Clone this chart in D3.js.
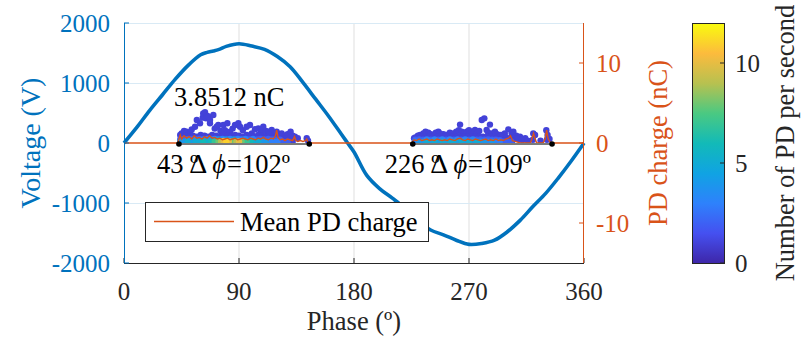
<!DOCTYPE html>
<html>
<head>
<meta charset="utf-8">
<script src="https://cdn.jsdelivr.net/npm/d3@7"></script>
<style>
  html, body { margin: 0; padding: 0; background: #fff; }
  svg { display: block; }
  text { font-family: "Liberation Serif", "Times New Roman", serif; }
</style>
</head>
<body>
<svg id="chart" width="804" height="342"></svg>
<script>
// ---- data ----
const phaseTicks = [0, 90, 180, 270, 360];
const voltageTicks = [-2000, -1000, 0, 1000, 2000];
const chargeTicks = [-10, 0, 10];
const countTicks = [0, 5, 10];

// supply voltage over one cycle (phase in degrees, volts)
const voltPhase = [0, 10, 20, 30, 40, 50, 60, 65, 70, 75, 80, 90, 100, 110, 120, 130, 140, 150, 160, 170, 175, 180, 190, 200, 210, 220, 230, 240, 250, 260, 270, 280, 290, 300, 310, 320, 330, 340, 350, 360];
const voltValue = [0, 260, 540, 800, 1060, 1290, 1470, 1510, 1535, 1565, 1610, 1655, 1615, 1560, 1440, 1270, 1010, 730, 450, 150, 0, -150, -540, -760, -920, -1090, -1300, -1450, -1530, -1620, -1690, -1675, -1620, -1480, -1290, -1060, -840, -580, -300, 0];

// mean PD charge per phase (nC)
const meanPhase = [0, 42, 43, 44, 45, 47, 49, 51, 53, 55, 57, 59, 61, 63, 65, 67, 69, 71, 73, 75, 77, 79, 81, 83, 85, 87, 89, 91, 93, 95, 97, 99, 101, 103, 105, 107, 109, 111, 113, 115, 117, 118.5, 119.5, 120.5, 122, 124, 126, 128, 130, 132, 133.5, 134.5, 136, 138, 140, 142, 143, 144, 145,
  225, 226, 227, 229, 231, 233, 235, 237, 239, 241, 243, 245, 247, 249, 251, 253, 255, 257, 259, 261, 263, 265, 267, 269, 271, 273, 275, 277, 279, 281, 283, 285, 287, 289, 291, 293, 295, 297, 299, 301, 302.5, 304, 306, 308, 310, 318, 319, 320.5, 322, 323, 328, 329.5, 330.8, 332, 333.5, 335, 360];
const meanCharge = [0, 0, 0.5, 1.0, 0.5, 0.9, 0.6, 0.8, 0.5, 0.9, 0.6, 0.7, 0.5, 0.8, 0.6, 0.9, 0.6, 0.7, 0.5, 0.6, 0.4, 0.5, 0.6, 0.4, 0.5, 0.6, 0.4, 0.5, 0.6, 0.5, 0.4, 0.6, 0.5, 0.4, 0.6, 0.5, 0.7, 0.5, 0.4, 0.6, 0.5, 0.9, 1.6, 0.7, 0.4, 0.5, 0.3, 0.5, 0.4, 0.3, 0.8, 0.3, 0.2, 0.3, 0.2, 0.3, 0.5, 0.1, 0,
  0, 0.2, 0.4, 0.3, 0.5, 0.3, 0.4, 0.5, 0.3, 0.4, 0.3, 0.5, 0.4, 0.3, 0.4, 0.3, 0.5, 0.4, 0.3, 0.5, 0.6, 0.4, 0.3, 0.5, 0.4, 0.3, 0.5, 0.4, 0.3, 0.4, 0.5, 0.3, 0.4, 0.3, 0.5, 0.3, 0.4, 0.3, 0.5, 0.6, 0.9, 0.3, 0.2, 0.1, 0, 0, 0.4, 1.2, 0.4, 0, 0, 0.5, 1.6, 0.5, 0.1, 0, 0];

// individual PD events: [phase (deg), charge (nC), PD per second]
const pdPositive = [
  [44, 1.0, 1], [45.1, 1.2, 1], [47, 1.5, 1], [49, 1.42, 1], [51.7, 1.2, 1], [53, 1.7, 1], [55.6, 2.04, 1], [57, 2.88, 1],
  [59.5, 2.46, 1], [61.6, 3.17, 1], [62, 3.7, 1], [63.4, 3.8512, 1], [64.2, 3.08, 1], [65.2, 3.37, 1], [66, 3.3, 1], [67.3, 2.46, 1],
  [67.3, 2.88, 1], [69.9, 3.5, 1], [71, 1.8, 1], [72.5, 2.04, 1], [73.8, 2.25, 1], [75.5, 1.5, 1], [77.7, 2.25, 1], [79, 1.6, 1],
  [80.9, 2.46, 1], [83, 1.42, 1], [85, 1.8, 1], [86.9, 2.25, 1], [89.5, 2.46, 1], [90.8, 2.04, 1], [93, 1.6, 1], [96, 2.04, 1],
  [98.6, 2.25, 1], [100, 1.2, 1], [102.5, 1.71, 1], [105.1, 1.83, 1], [107, 1.4, 1], [109, 2.04, 1], [111, 1.5, 1], [113, 1.42, 1],
  [115.6, 1.63, 1], [117, 1.2, 1], [119.5, 1.42, 1], [121, 1.1, 1], [123.4, 1.2, 1], [126, 0.9, 1], [128, 1.1, 1], [130.4, 1.42, 1],
  [132, 0.9, 1], [133.8, 0.8, 1], [136, 0.6, 1], [143, 0.6, 1], [144, 0.3, 1],
  [45, 0.8, 1], [48, 0.9, 1], [51, 0.8, 1], [54, 0.9, 1], [57, 0.8, 1], [60, 1.0, 1], [63, 0.9, 1], [66, 0.8, 1], [69, 1.0, 1],
  [72, 0.9, 1], [75, 0.8, 1], [78, 1.0, 1], [81, 0.9, 1], [84, 0.8, 1], [87, 1.0, 1], [90, 0.9, 1], [93, 0.8, 1], [96, 1.0, 1],
  [99, 0.9, 1], [102, 0.8, 1], [105, 1.0, 1], [108, 0.9, 1], [111, 0.8, 1], [114, 1.0, 1], [117, 0.8, 1], [120, 0.7, 1],
  [124, 0.6, 1], [128, 0.6, 1], [132, 0.5, 1],
  [44, 0.45, 2], [47, 0.5, 2], [50, 0.45, 3], [53, 0.5, 2], [56, 0.45, 3], [59, 0.5, 2], [62, 0.45, 3], [65, 0.5, 3], [68, 0.45, 3],
  [71, 0.5, 3], [74, 0.45, 4], [77, 0.5, 3], [80, 0.45, 4], [83, 0.5, 3], [86, 0.45, 4], [89, 0.5, 3], [92, 0.45, 3], [95, 0.5, 3],
  [98, 0.45, 2], [101, 0.5, 3], [104, 0.45, 2], [107, 0.5, 2], [110, 0.45, 2], [113, 0.5, 2], [116, 0.45, 2], [119, 0.4, 2],
  [122, 0.4, 2], [126, 0.35, 1], [130, 0.3, 1],
  [44, 0.15, 4], [47, 0.15, 4], [50, 0.15, 5], [53, 0.15, 4], [56, 0.15, 5], [59, 0.15, 5], [62, 0.15, 6], [65, 0.15, 5],
  [68, 0.15, 6], [71, 0.15, 7], [74, 0.2, 8], [76, 0.15, 9], [78, 0.25, 10], [80, 0.15, 11], [82, 0.2, 10], [84, 0.15, 8],
  [86, 0.25, 7], [88, 0.15, 9], [90, 0.2, 10], [92, 0.15, 8], [94, 0.2, 6], [96, 0.15, 7], [99, 0.15, 6], [102, 0.15, 5],
  [105, 0.15, 5], [108, 0.15, 4], [111, 0.15, 4], [114, 0.15, 3], [117, 0.15, 3], [120, 0.15, 3], [124, 0.15, 2], [128, 0.15, 2],
  [132, 0.15, 1]
];
const pdNegative = [
  [228, 0.7, 1], [230, 0.9, 1], [231.7, 1.0, 1], [234.3, 1.2, 1], [236, 1.4, 1], [238.2, 1.3, 1], [240, 1.1, 1], [242.1, 1.0, 1],
  [244, 1.3, 1], [246, 1.42, 1], [247.3, 1.2, 1], [250, 1.1, 1], [252.5, 1.0, 1], [255, 1.3, 1], [257.7, 1.2, 1], [260, 1.4, 1],
  [262, 1.6, 1], [263, 2.3, 1], [264.3, 1.42, 1], [266, 1.2, 1], [268.2, 1.42, 1], [270, 1.6, 1], [272, 1.3, 1], [273.4, 1.42, 1],
  [274.7, 1.63, 1], [276, 1.2, 1], [278, 1.5, 1], [280, 2.88, 1], [282, 3.08, 1], [283.8, 1.63, 1], [285, 1.3, 1], [286.4, 2.3, 1],
  [288, 1.2, 1], [290.3, 1.42, 1], [292, 1.1, 1], [295, 1.0, 1], [298, 1.2, 1], [300.8, 1.7, 1], [303.4, 1.2, 1], [304.7, 1.42, 1],
  [307, 0.9, 1], [309.9, 0.8, 1], [312.5, 0.4, 1], [314, 0.6, 1], [320.3, 1.2, 1], [321.7, 1.0, 1], [330.5, 1.6, 1], [331.5, 1.0, 1],
  [333, 0.5, 1],
  [227, 0.6, 1], [230, 0.75, 1], [233, 0.8, 1], [236, 0.75, 1], [239, 0.8, 1], [242, 0.75, 1], [245, 0.8, 1], [248, 0.75, 1],
  [251, 0.8, 1], [254, 0.75, 1], [257, 0.8, 1], [260, 0.75, 1], [263, 0.8, 1], [266, 0.75, 1], [269, 0.8, 1], [272, 0.75, 1],
  [275, 0.8, 1], [278, 0.75, 1], [281, 0.8, 1], [284, 0.75, 1], [287, 0.8, 1], [290, 0.75, 1], [293, 0.7, 1], [296, 0.75, 1],
  [299, 0.7, 1], [302, 0.6, 1], [305, 0.6, 1], [308, 0.5, 1], [311, 0.4, 1], [316, 0.3, 1], [320, 0.4, 1], [326, 0.3, 1], [331, 0.4, 1],
  [228, 0.4, 2], [231, 0.45, 2], [234, 0.4, 2], [237, 0.45, 3], [240, 0.4, 2], [243, 0.45, 3], [246, 0.4, 2], [249, 0.45, 3],
  [252, 0.4, 2], [255, 0.45, 3], [258, 0.4, 2], [261, 0.45, 3], [264, 0.4, 2], [267, 0.45, 3], [270, 0.4, 2], [273, 0.45, 3],
  [276, 0.4, 2], [279, 0.45, 2], [282, 0.4, 2], [285, 0.45, 2], [288, 0.4, 2], [291, 0.4, 2], [294, 0.35, 2], [297, 0.35, 1],
  [300, 0.3, 1], [304, 0.3, 1],
  [228, 0.15, 3], [231, 0.15, 4], [234, 0.15, 4], [237, 0.15, 5], [240, 0.15, 4], [243, 0.15, 5], [246, 0.15, 4], [249, 0.15, 5],
  [252, 0.15, 4], [255, 0.15, 5], [258, 0.15, 5], [261, 0.15, 4], [264, 0.15, 5], [267, 0.15, 4], [270, 0.15, 5], [273, 0.15, 4],
  [276, 0.15, 5], [279, 0.15, 4], [282, 0.15, 4], [285, 0.15, 3], [288, 0.15, 4], [291, 0.15, 3], [294, 0.15, 3], [297, 0.15, 2],
  [300, 0.15, 2], [303, 0.15, 2]
];

// PD activity windows (start phase and width, degrees)
const windowStart = [43, 226];
const windowWidth = [102, 109];
const peakCharge = 3.8512;

// parula colour map stops
const parulaStops = ["#3e26a8", "#4550f0", "#2e81fc", "#10a3e3", "#12bab8", "#4ac982", "#b7c150", "#fcbb3d", "#f9fb0e"];

// ---- layout ----
const svg = d3.select("#chart");
const plot = { left: 124, right: 584, top: 23, bottom: 263 };
const bar = { left: 692, right: 724 };
const blue = "#0072BD", orange = "#D95319", dark = "#262626";
const tickFont = 25, labelFont = 26.5;

const x = d3.scaleLinear([0, 360], [plot.left, plot.right]);
const yV = d3.scaleLinear([-2000, 2000], [plot.bottom, plot.top]);
const yQ = d3.scaleLinear([-15, 15], [plot.bottom, plot.top]);
const cDomain = [0, 12];
const color = d3.scaleLinear()
  .domain(parulaStops.map((_, i) => cDomain[0] + i * (cDomain[1] - cDomain[0]) / (parulaStops.length - 1)))
  .range(parulaStops).clamp(true);
const yC = d3.scaleLinear(cDomain, [plot.bottom, plot.top]);

// grid
const grid = svg.append("g");
grid.selectAll(".gx").data(phaseTicks.slice(1, -1)).join("line")
  .attr("x1", d => x(d)).attr("x2", d => x(d))
  .attr("y1", plot.top).attr("y2", plot.bottom)
  .attr("stroke", "#dfdfdf").attr("stroke-width", 1);
grid.selectAll(".gy").data(voltageTicks.filter(d => d !== 0 && d !== -2000)).join("line")
  .attr("x1", plot.left).attr("x2", plot.right)
  .attr("y1", d => yV(d) + 0.5).attr("y2", d => yV(d) + 0.5)
  .attr("stroke", "#d9eaf5").attr("stroke-width", 1);

// voltage waveform
const vData = voltPhase.map((p, i) => [p, voltValue[i]]);
svg.append("path")
  .datum(vData)
  .attr("fill", "none").attr("stroke", blue).attr("stroke-width", 3.6)
  .attr("stroke-linejoin", "round")
  .attr("d", d3.line().x(d => x(d[0])).y(d => yV(d[1])).curve(d3.curveCatmullRom.alpha(0.5)));

// PD events, low rates first
const events = pdPositive.concat(pdNegative).slice().sort((a, b) => a[2] - b[2]);
svg.append("g").selectAll("circle").data(events).join("circle")
  .attr("cx", d => x(d[0])).attr("cy", d => yQ(d[1]))
  .attr("r", 3.2)
  .attr("fill", d => color(d[2]));

// mean PD charge
const mData = meanPhase.map((p, i) => [p, meanCharge[i]]);
const meanLine = d3.line().x(d => x(d[0])).y(d => yQ(d[1]));
svg.append("path").datum(mData)
  .attr("fill", "none").attr("stroke", orange).attr("stroke-width", 1.4)
  .attr("d", meanLine);

// activity windows on the zero line
windowStart.forEach((s, i) => {
  const e = s + windowWidth[i];
  svg.append("line")
    .attr("x1", x(s)).attr("x2", x(e)).attr("y1", yQ(0) + 1).attr("y2", yQ(0) + 1)
    .attr("stroke", "#7a7a7a").attr("stroke-width", 2.2);
  svg.selectAll(null).data([s, e]).join("circle")
    .attr("cx", d => x(d)).attr("cy", yQ(0) + 1).attr("r", 2.8).attr("fill", "#000");
});

// annotations
svg.append("text").attr("x", x(63.4) - 31).attr("y", yQ(peakCharge) - 6)
  .attr("font-size", 26.5).attr("fill", "#000").text(peakCharge.toFixed(4) + " nC");

const labelLeft = [x(windowStart[0]) - 22, x(windowStart[1]) - 28];
windowStart.forEach((s, i) => {
  const t = svg.append("text").attr("x", labelLeft[i]).attr("y", 173)
    .attr("font-size", 26.5).attr("fill", "#000");
  t.append("tspan").text(s + " º");
  t.append("tspan").attr("dx", -9).attr("font-size", 28).text("Δ");
  t.append("tspan").attr("dx", 5).attr("font-style", "italic").text("ϕ");
  t.append("tspan").attr("dx", 1).text("=" + windowWidth[i] + "º");
});

// axes
const ax = svg.append("g");
ax.append("line").attr("x1", plot.left).attr("x2", plot.right).attr("y1", plot.bottom + 0.5).attr("y2", plot.bottom + 0.5).attr("stroke", dark);
ax.selectAll(".tx").data(phaseTicks).join("line")
  .attr("x1", d => x(d)).attr("x2", d => x(d)).attr("y1", plot.bottom).attr("y2", plot.bottom - 5).attr("stroke", dark);
ax.selectAll(".txl").data(phaseTicks).join("text")
  .attr("x", d => x(d)).attr("y", 300).attr("text-anchor", "middle")
  .attr("font-size", tickFont).attr("fill", dark).text(d => d);
ax.append("text").attr("x", (plot.left + plot.right) / 2).attr("y", 330).attr("text-anchor", "middle")
  .attr("font-size", labelFont).attr("fill", dark).text("Phase (º)");

ax.append("line").attr("x1", plot.left + 0.5).attr("x2", plot.left + 0.5).attr("y1", plot.top).attr("y2", plot.bottom).attr("stroke", blue);
ax.selectAll(".ty").data(voltageTicks).join("line")
  .attr("x1", plot.left).attr("x2", plot.left + 5).attr("y1", d => yV(d)).attr("y2", d => yV(d)).attr("stroke", blue);
ax.selectAll(".tyl").data(voltageTicks).join("text")
  .attr("x", 110).attr("y", d => yV(d) + 9).attr("text-anchor", "end")
  .attr("font-size", tickFont).attr("fill", blue).text(d => d < 0 ? "-" + Math.abs(d) : d);
ax.append("text").attr("transform", `translate(40,${(plot.top + plot.bottom) / 2}) rotate(-90)`)
  .attr("text-anchor", "middle").attr("font-size", labelFont + 1.5).attr("fill", blue).text("Voltage (V)");

ax.append("line").attr("x1", plot.right - 0.5).attr("x2", plot.right - 0.5).attr("y1", plot.top).attr("y2", plot.bottom).attr("stroke", orange);
ax.selectAll(".tq").data(chargeTicks).join("line")
  .attr("x1", plot.right).attr("x2", plot.right - 5).attr("y1", d => yQ(d)).attr("y2", d => yQ(d)).attr("stroke", orange);
ax.selectAll(".tql").data(chargeTicks).join("text")
  .attr("x", 596).attr("y", d => yQ(d) + 9)
  .attr("font-size", tickFont).attr("fill", orange).text(d => d < 0 ? "-" + Math.abs(d) : d);
ax.append("text").attr("transform", `translate(667,${(plot.top + plot.bottom) / 2}) rotate(-90)`)
  .attr("text-anchor", "middle").attr("font-size", labelFont).attr("fill", orange).text("PD charge (nC)");

// legend
const lg = svg.append("g");
lg.append("rect").attr("x", 145.5).attr("y", 202.5).attr("width", 283).attr("height", 39)
  .attr("fill", "#fff").attr("stroke", dark).attr("stroke-width", 1);
lg.append("line").attr("x1", 154).attr("x2", 234).attr("y1", 221.5).attr("y2", 221.5)
  .attr("stroke", orange).attr("stroke-width", 1.4);
lg.append("text").attr("x", 240).attr("y", 231).attr("font-size", labelFont).attr("fill", "#000").text("Mean PD charge");

// colour bar
const defs = svg.append("defs");
const grad = defs.append("linearGradient").attr("id", "parula").attr("x1", 0).attr("y1", 1).attr("x2", 0).attr("y2", 0);
grad.selectAll("stop").data(parulaStops).join("stop")
  .attr("offset", (d, i) => i / (parulaStops.length - 1)).attr("stop-color", d => d);
svg.append("rect").attr("x", bar.left + 0.5).attr("y", plot.top + 0.5)
  .attr("width", bar.right - bar.left).attr("height", plot.bottom - plot.top)
  .attr("fill", "url(#parula)").attr("stroke", dark).attr("stroke-width", 1);
svg.selectAll(".tc").data(countTicks).join("line")
  .attr("x1", bar.right).attr("x2", bar.right - 4).attr("y1", d => yC(d)).attr("y2", d => yC(d)).attr("stroke", dark);
svg.selectAll(".tcl").data(countTicks).join("text")
  .attr("x", 735).attr("y", d => yC(d) + 9)
  .attr("font-size", tickFont).attr("fill", dark).text(d => d);
svg.append("text").attr("transform", `translate(794,${(plot.top + plot.bottom) / 2}) rotate(-90)`)
  .attr("text-anchor", "middle").attr("font-size", labelFont).attr("fill", dark).text("Number of PD per second");
</script>
</body>
</html>
